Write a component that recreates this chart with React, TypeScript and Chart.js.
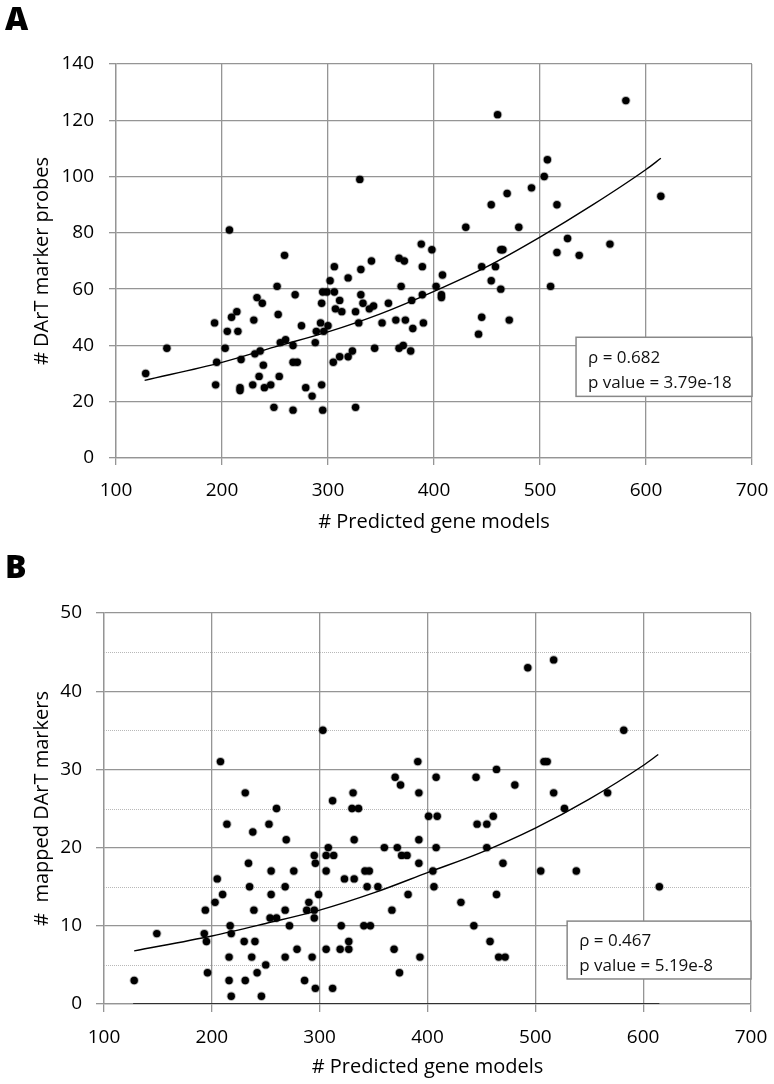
import React, { useEffect, useRef } from "react";
import { Chart, registerables } from "chart.js";

Chart.register(...registerables);

// ---------- Data ----------
const GENE_MODELS_A = [
  128, 148, 193, 195, 194, 203, 205, 215, 209, 214,
  207, 218, 217, 217, 229, 230, 233, 238, 231, 236,
  235, 239, 240, 246, 249, 252, 253, 255, 260, 259,
  254, 267, 269, 267, 271, 267, 275, 279, 285, 288,
  289, 293, 294, 295, 299, 294, 295, 296, 300, 302,
  306, 306, 305, 307, 311, 313, 311, 319, 319, 323,
  326, 326, 330, 331, 331, 329, 333, 339, 341, 343,
  344, 351, 357, 364, 367, 372, 369, 373, 367, 371,
  378, 380, 379, 388, 389, 389, 390, 398, 402, 408,
  407, 407, 430, 454, 469, 460, 492, 504, 507, 516,
  480, 463, 465, 445, 458, 454, 463, 445, 442, 471,
  510, 526, 516, 537, 566, 581, 614,
];
const PROBES_A = [
  30, 39, 48, 34, 26, 39, 45, 45, 50, 52,
  81, 35, 25, 24, 26, 49, 57, 55, 37, 38,
  29, 33, 25, 26, 18, 61, 51, 41, 42, 72,
  29, 40, 58, 34, 34, 17, 47, 25, 22, 41,
  45, 48, 55, 59, 59, 26, 17, 45, 47, 63,
  68, 59, 34, 53, 56, 52, 36, 36, 64, 38,
  52, 18, 99, 67, 58, 48, 55, 53, 70, 54,
  39, 48, 55, 49, 71, 70, 61, 49, 39, 40,
  38, 46, 56, 76, 68, 58, 48, 74, 61, 65,
  58, 57, 82, 90, 94, 122, 96, 100, 106, 90,
  82, 74, 74, 68, 68, 63, 60, 50, 44, 49,
  61, 78, 73, 72, 76, 127, 93,
];
const TREND_X_A = [127, 200, 250, 300, 350, 400, 450, 500, 550, 600, 614];
const TREND_Y_A = [27.6, 34, 39.5, 44.8, 51.3, 59.2, 68, 78.5, 90, 102.5, 106.5];

const GENE_MODELS_B = [
  128, 149, 194, 193, 195, 196, 203, 205, 210, 208,
  214, 217, 218, 216, 216, 218, 231, 230, 234, 235,
  238, 239, 240, 237, 231, 242, 246, 250, 253, 255,
  255, 254, 260, 260, 269, 268, 268, 268, 272, 276,
  279, 286, 290, 288, 295, 296, 293, 295, 295, 296,
  299, 303, 306, 306, 308, 313, 312, 306, 312, 319,
  320, 323, 327, 327, 331, 330, 336, 332, 332, 341,
  347, 342, 346, 344, 354, 360, 367, 370, 375, 372,
  376, 381, 369, 374, 382, 391, 392, 392, 392, 393,
  401, 408, 409, 408, 405, 406, 431, 443, 445, 446,
  455, 461, 455, 464, 481, 470, 464, 458, 466, 472,
  493, 517, 508, 511, 517, 527, 505, 538, 567, 582,
  615,
];
const MAPPED_B = [
  3, 9, 12, 9, 8, 4, 13, 16, 14, 31,
  23, 10, 9, 6, 3, 1, 27, 8, 18, 15,
  22, 12, 8, 6, 3, 4, 1, 5, 23, 17,
  14, 11, 11, 25, 21, 15, 12, 6, 10, 17,
  7, 3, 13, 12, 19, 18, 6, 12, 11, 2,
  14, 35, 17, 19, 20, 19, 26, 7, 2, 7,
  10, 16, 8, 7, 27, 25, 25, 21, 16, 10,
  10, 17, 17, 15, 15, 20, 12, 29, 28, 20,
  19, 19, 7, 4, 14, 31, 27, 21, 18, 6,
  24, 29, 24, 20, 17, 15, 13, 10, 29, 23,
  23, 24, 20, 30, 28, 18, 14, 8, 6, 6,
  43, 44, 31, 31, 27, 25, 17, 17, 27, 35,
  15,
];
const TREND_X_B = [128, 200, 250, 300, 350, 400, 450, 500, 550, 600, 614];
const TREND_Y_B = [6.8, 8.7, 10.3, 12.0, 14.2, 16.8, 19.4, 22.5, 26.2, 30.5, 31.9];
const BASELINE_X_B = [127, 615];
const BASELINE_Y_B = [0, 0];
const MINOR_Y_B = [5, 15, 25, 35, 45];

const STATS_A = ["\u03C1 = 0.682", "p value = 3.79e-18"];
const STATS_B = ["\u03C1 = 0.467", "p value = 5.19e-8"];

const X_TITLE = "# Predicted gene models";
const Y_TITLE_A = "# DArT marker probes";
const Y_TITLE_B = "#  mapped DArT markers";

// ---------- Styling ----------
const FONT = "'Open Sans', 'DejaVu Sans', sans-serif";
const GRID = "#959595";

const zip = (xs: number[], ys: number[]) => xs.map((x, i) => ({ x, y: ys[i] }));

const statsBoxPlugin = {
  id: "statsBox",
  afterDatasetsDraw(chart: any, _args: any, opts: any) {
    if (!opts || !opts.lines) return;
    const { ctx } = chart;
    const sx = chart.scales.x;
    const sy = chart.scales.y;
    const l = sx.getPixelForValue(opts.x0);
    const r = sx.getPixelForValue(opts.x1);
    const t = sy.getPixelForValue(opts.y0);
    const b = sy.getPixelForValue(opts.y1);
    ctx.save();
    ctx.fillStyle = "#ffffff";
    ctx.fillRect(l, t, r - l, b - t);
    ctx.strokeStyle = "#888888";
    ctx.lineWidth = 1.5;
    ctx.strokeRect(l, t, r - l, b - t);
    ctx.fillStyle = "#111";
    ctx.font = `17px ${FONT}`;
    ctx.textBaseline = "middle";
    ctx.textAlign = "left";
    opts.lines.forEach((s: string, i: number) => {
      ctx.fillText(s, l + 12, t + opts.first + i * 25);
    });
    ctx.restore();
  },
};

const minorGridPlugin = {
  id: "minorGrid",
  beforeDatasetsDraw(chart: any, _args: any, opts: any) {
    if (!opts || !opts.values) return;
    const { ctx, chartArea } = chart;
    const sy = chart.scales.y;
    ctx.save();
    ctx.strokeStyle = "#b8b8b8";
    ctx.lineWidth = 1;
    ctx.setLineDash([1, 1]);
    opts.values.forEach((v: number) => {
      const py = Math.round(sy.getPixelForValue(v)) + 0.5;
      ctx.beginPath();
      ctx.moveTo(chartArea.left, py);
      ctx.lineTo(chartArea.right, py);
      ctx.stroke();
    });
    ctx.restore();
  },
};

type PanelSpec = {
  xs: number[];
  ys: number[];
  trendX: number[];
  trendY: number[];
  baseX?: number[];
  baseY?: number[];
  yMax: number;
  yStep: number;
  yTitle: string;
  yWidth: number;
  xHeight: number;
  padTop: number;
  padRight: number;
  tickLen: number;
  yTickPad: number;
  xTickPad: number;
  xTitlePad: number;
  yTitlePad: number;
  stats: string[];
  box: { x0: number; x1: number; y0: number; y1: number; first: number };
  minor?: number[];
};

function buildConfig(p: PanelSpec): any {
  const datasets: any[] = [
    {
      data: zip(p.trendX, p.trendY),
      showLine: true,
      borderColor: "#000",
      borderWidth: 1.4,
      pointRadius: 0,
      cubicInterpolationMode: "monotone",
      order: 0,
    },
  ];
  if (p.baseX && p.baseY) {
    datasets.push({
      data: zip(p.baseX, p.baseY),
      showLine: true,
      borderColor: "#111",
      borderWidth: 1.4,
      pointRadius: 0,
      order: 1,
    });
  }
  datasets.push({
    data: zip(p.xs, p.ys),
    pointRadius: 3.7,
    pointBackgroundColor: "#000",
    pointBorderColor: "rgba(0,0,0,0.28)",
    pointBorderWidth: 2,
    order: 2,
  });
  const tickFont = { family: FONT, size: 19 };
  const titleFont = { family: FONT, size: 20 };
  return {
    type: "scatter",
    data: { datasets },
    plugins: [minorGridPlugin, statsBoxPlugin],
    options: {
      animation: false,
      responsive: false,
      devicePixelRatio: 1,
      layout: { padding: { top: p.padTop, right: p.padRight, left: 0, bottom: 0 } },
      plugins: {
        legend: { display: false },
        tooltip: { enabled: false },
        statsBox: { lines: p.stats, ...p.box },
        minorGrid: p.minor ? { values: p.minor } : {},
      },
      scales: {
        x: {
          type: "linear",
          min: 100,
          max: 700,
          ticks: { stepSize: 100, font: tickFont, color: "#000", padding: p.xTickPad, maxRotation: 0 },
          grid: { color: GRID, lineWidth: 1.3, tickLength: p.tickLen },
          border: { color: GRID, width: 1.3 },
          title: {
            display: true,
            text: X_TITLE,
            font: titleFont,
            color: "#000",
            padding: { top: 0, bottom: p.xTitlePad },
          },
          afterFit: (s: any) => {
            s.height = p.xHeight;
            s.paddingLeft = 0;
            s.paddingRight = 0;
          },
        },
        y: {
          type: "linear",
          min: 0,
          max: p.yMax,
          ticks: { stepSize: p.yStep, font: tickFont, color: "#000", padding: p.yTickPad },
          grid: { color: GRID, lineWidth: 1.3, tickLength: p.tickLen },
          border: { color: GRID, width: 1.3 },
          title: {
            display: true,
            text: p.yTitle,
            font: titleFont,
            color: "#000",
            padding: { top: p.yTitlePad, bottom: 0 },
          },
          afterFit: (s: any) => {
            s.width = p.yWidth;
            s.paddingTop = 0;
            s.paddingBottom = 0;
          },
        },
      },
    },
  };
}

function Panel({ spec, top, height }: { spec: PanelSpec; top: number; height: number }) {
  const ref = useRef<HTMLCanvasElement | null>(null);
  useEffect(() => {
    if (!ref.current) return;
    const chart = new Chart(ref.current, buildConfig(spec));
    return () => chart.destroy();
  }, [spec]);
  return (
    <canvas
      ref={ref}
      width={774}
      height={height}
      style={{ position: "absolute", left: 0, top, width: 774, height, display: "block" }}
    />
  );
}

const SPEC_A: PanelSpec = {
  xs: GENE_MODELS_A,
  ys: PROBES_A,
  trendX: TREND_X_A,
  trendY: TREND_Y_A,
  yMax: 140,
  yStep: 20,
  yTitle: Y_TITLE_A,
  yWidth: 116,
  xHeight: 87,
  padTop: 64,
  padRight: 22,
  tickLen: 7,
  yTickPad: 15,
  xTickPad: 14,
  xTitlePad: 11,
  yTitlePad: 30,
  stats: STATS_A,
  box: { x0: 534, x1: 700, y0: 42.9, y1: 21.9, first: 21 },
};

const SPEC_B: PanelSpec = {
  xs: GENE_MODELS_B,
  ys: MAPPED_B,
  trendX: TREND_X_B,
  trendY: TREND_Y_B,
  baseX: BASELINE_X_B,
  baseY: BASELINE_Y_B,
  yMax: 50,
  yStep: 10,
  yTitle: Y_TITLE_B,
  yWidth: 104,
  xHeight: 80,
  padTop: 68,
  padRight: 23,
  tickLen: 8,
  yTickPad: 14,
  xTickPad: 14,
  xTitlePad: 5,
  yTitlePad: 30,
  stats: STATS_B,
  box: { x0: 529.5, x1: 700, y0: 10.6, y1: 3.2, first: 20 },
  minor: MINOR_Y_B,
};

const letterStyle = (top: number): React.CSSProperties => ({
  position: "absolute",
  left: 5,
  top,
  fontFamily: FONT,
  fontWeight: 800,
  fontSize: 32,
  lineHeight: "32px",
  color: "#000",
});

export default function App() {
  return (
    <div style={{ position: "absolute", left: 0, top: 0, width: 774, height: 1084, background: "#fff", overflow: "hidden" }}>
      <Panel spec={SPEC_A} top={0} height={545} />
      <Panel spec={SPEC_B} top={545} height={539} />
      <div style={letterStyle(2)}>A</div>
      <div style={letterStyle(550)}>B</div>
    </div>
  );
}
